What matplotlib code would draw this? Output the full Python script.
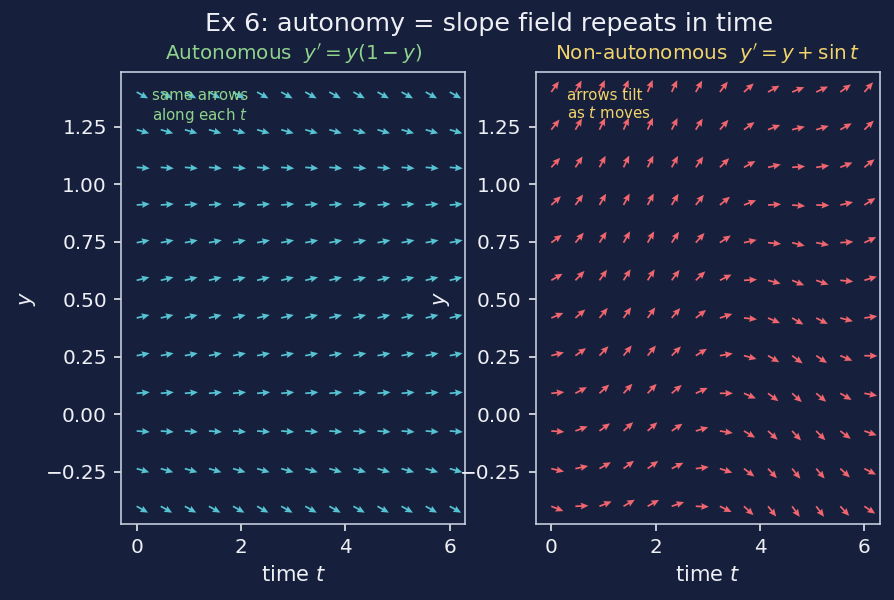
import numpy as np
import matplotlib.pyplot as plt

# slope field grid
t_vals = np.linspace(0, 6, 14)
y_vals = np.linspace(-0.4, 1.4, 12)

bg = "#161f3c"
fg = "#eef0f5"
spine_col = "#c9d1e3"
cyan = "#56c3d2"
red = "#f0656e"
green = "#8fd48c"
yellow = "#f2d46c"


def auto_rhs(t, y):
    return y * (1 - y)


def nonauto_rhs(t, y):
    return y + np.sin(t)


def draw_field(ax, f, color):
    T, Y = np.meshgrid(t_vals, y_vals)
    S = f(T, Y)
    n = np.sqrt(1 + S**2)
    U = 1 / n
    V = S / n
    ax.quiver(T, Y, U, V, color=color, angles="uv", scale_units="inches",
              scale=11.0, width=0.005, headwidth=4, headlength=4.5,
              headaxislength=4)
    ax.set_xlim(-0.3, 6.3)
    ax.set_ylim(-0.477, 1.487)
    ax.set_facecolor(bg)
    for s in ax.spines.values():
        s.set_color(spine_col)
    ax.tick_params(colors=fg, labelsize=10)
    ax.set_xlabel("time $t$", color=fg, fontsize=10.5)
    ax.set_ylabel("$y$", color=fg, fontsize=10.5)


fig, (ax1, ax2) = plt.subplots(1, 2, figsize=(894 / 144, 600 / 144), dpi=144)
fig.patch.set_facecolor(bg)
fig.subplots_adjust(left=121 / 894, right=880 / 894, top=1 - 72 / 600,
                    bottom=1 - 524 / 600, wspace=0.204)

draw_field(ax1, auto_rhs, cyan)
draw_field(ax2, nonauto_rhs, red)

ax1.set_title("Autonomous  $y'=y(1-y)$", color=green, fontsize=10)
ax2.set_title("Non-autonomous  $y'=y+\\sin t$", color=yellow, fontsize=10)

ax1.text(0.09, 0.965, "same arrows\nalong each $t$", transform=ax1.transAxes,
         color=green, fontsize=7.5, va="top", ha="left")
ax2.text(0.09, 0.965, "arrows tilt\nas $t$ moves", transform=ax2.transAxes,
         color=yellow, fontsize=7.5, va="top", ha="left")

fig.suptitle("Ex 6: autonomy = slope field repeats in time", color=fg,
             fontsize=12.7, x=0.5465, y=0.98)

fig.savefig("out.png", dpi=144, facecolor=bg)
